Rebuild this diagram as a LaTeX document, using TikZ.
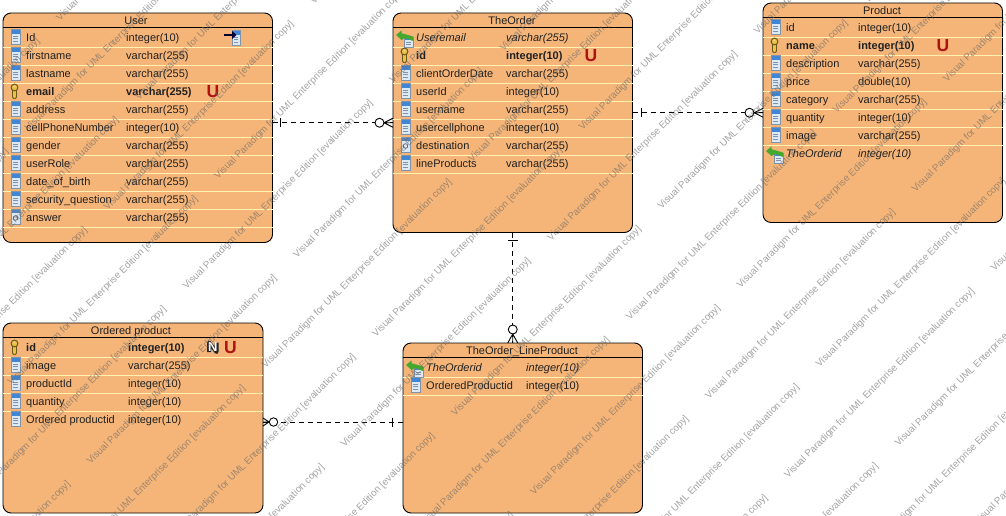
\documentclass[tikz,border=0pt]{standalone}
\usepackage{fontspec}
\setmainfont{Liberation Sans}
\usetikzlibrary{calc}
\definecolor{boxfill}{HTML}{F5B578}
\definecolor{sepcol}{HTML}{FFF1B0}
\definecolor{inkcol}{HTML}{202020}
\definecolor{ured}{HTML}{B01212}
\definecolor{docblue}{HTML}{3F86D6}
\definecolor{docbody}{HTML}{DCE8F4}
\definecolor{docedge}{HTML}{7F93AA}
\definecolor{keygold}{HTML}{E9C23E}
\definecolor{fkgreen}{HTML}{45A72E}
\tikzset{
  tablebox/.style={draw=black,line width=0.9pt,fill=boxfill,rounded corners=8pt,anchor=north west,inner sep=0pt,outer sep=0pt},
  headline/.style={draw=black,line width=0.9pt},
  rowsep/.style={draw=sepcol,line width=0.9pt},
  lbl/.style={font=\fontsize{11}{13}\selectfont,text=inkcol,anchor=base west,inner sep=0pt},
  ttl/.style={font=\fontsize{11}{13}\selectfont,text=inkcol,anchor=base,inner sep=0pt},
  rel/.style={draw=black,line width=0.8pt,dash pattern=on 5pt off 4pt},
  endmark/.style={draw=black,line width=0.9pt},
  ring/.style={draw=black,line width=0.9pt,fill=white},
  ubadge/.style={font=\bfseries\fontsize{17.5}{17.5}\selectfont,text=ured,inner sep=0pt},
  nbadge/.style={font=\bfseries\fontsize{13}{13}\selectfont,text=white,inner sep=0pt},
  wmark/.style={font=\fontsize{9.75}{11}\selectfont,text=black!60,opacity=0.6,rotate=45,anchor=base west,inner sep=0pt},
  coldoc/.pic={
    \fill[docbody] (-4.5,-7.5) rectangle (4.5,7.5);
    \fill[docblue] (-4.5,-7.5) rectangle (4.5,-3);
    \foreach \q in {-1,1.5,4}{\draw[docedge,line width=0.8pt] (-2.5,\q) -- (2.5,\q);}
    \draw[docedge,line width=0.6pt] (-4.5,-7.5) rectangle (4.5,7.5);
  },
  markdoc/.pic={
    \fill[docbody] (-4.5,-7.5) rectangle (4.5,7.5);
    \fill[docblue!60!gray] (-4.5,-7.5) rectangle (4.5,-4);
    \draw[black!65,line width=0.7pt] (0,1) circle (2.3);
    \draw[docedge,line width=0.6pt] (-4.5,-7.5) rectangle (4.5,7.5);
  },
  keymark/.pic={
    \draw[black!55!keygold,line width=4.4pt,line cap=round] (-1,-1) -- (-1,6);
    \draw[keygold,line width=2.6pt,line cap=round] (-1,-1) -- (-1,6);
    \draw[black!55!keygold,line width=1pt,fill=keygold] (-1,-3.5) circle (3.4);
    \fill[boxfill!70!white] (-1,-4.5) circle (1.2);
  },
  fkmark/.pic={
    \fill[docbody] (-1.5,0) rectangle (7.5,10);
    \fill[docblue] (-1.5,0) rectangle (7.5,3);
    \draw[docedge,line width=0.5pt] (-1.5,0) rectangle (7.5,10);
    \foreach \q in {5,7.5}{\draw[docedge,line width=0.7pt] (0.5,\q) -- (5.5,\q);}
    \fill[fkgreen] (-9.5,-2) -- (-4,-6.5) -- (-4,-3.8) -- (7.5,-0.5) -- (7.5,4) -- (-0.5,1) -- (-4,3) -- cycle;
  },
  pkref/.pic={
    \fill[docbody] (-4,-7.5) rectangle (4,7.5);
    \fill[docblue] (-4,-7.5) rectangle (4,-3);
    \foreach \q in {-1,1.5,4}{\draw[docedge,line width=0.8pt] (-2,\q) -- (2,\q);}
    \draw[docedge,line width=0.6pt] (-4,-7.5) rectangle (4,7.5);
    \draw[black!80!blue,line width=2pt] (-12,-3) -- (-3,-3);
    \fill[black!80!blue] (-4,-7) -- (0.5,-3) -- (-4,1) -- cycle;
  },
}
\newcount\rowno
\newcommand{\nameX}{0}\newcommand{\typeX}{0}\newcommand{\iconX}{0}
\newcommand{\tablecols}[3]{\renewcommand{\iconX}{#1}\renewcommand{\nameX}{#2}\renewcommand{\typeX}{#3}}
% y, icon pic, name, type, font switch
\newcommand{\dbrow}[5]{%
  \global\advance\rowno by 1
  \pic at (\iconX,#1) {#2};
  \node[lbl] (rn\the\rowno) at (\nameX,#1+4.5) {#5#3};
  \node[lbl] (rt\the\rowno) at (\typeX,#1+4.5) {#5#4};
}
\newcommand{\seps}[3]{% node, first y, last y
  \foreach \q in {#2,...,#3}{\draw[rowsep] (#1.west |- 0,\q) -- (#1.east |- 0,\q);}
}
\begin{document}
\begin{tikzpicture}[x=1pt,y=-1pt]
\useasboundingbox (0,0) rectangle (1006,516);
\clip (0,0) rectangle (1006,516);
\fill[white] (0,0) rectangle (1006,516);

% tables
\node[tablebox,minimum width=269.5pt,minimum height=229.5pt] (user) at (3,13) {};
\node[tablebox,minimum width=239.5pt,minimum height=219.5pt] (order) at (393,13) {};
\node[tablebox,minimum width=239.5pt,minimum height=219.5pt] (product) at (763,3) {};
\node[tablebox,minimum width=260pt,minimum height=190pt] (ordered) at (3,323) {};
\node[tablebox,minimum width=239.5pt,minimum height=170pt] (line) at (403,343) {};

% connectors
\draw[rel] (user.east |- order.west) -- (order.west);
\draw[rel] (order.east |- product.west) -- (product.west);
\draw[rel] (order.south) -- (order.south |- line.north);
\draw[rel] ([yshift=-4pt]ordered.east) -- ([yshift=-4pt]ordered.east -| line.west);

% ends: user - order
\draw[endmark] ([xshift=8pt]user.east |- order.west) ++(0,-4.5) -- ++(0,9);
\draw[ring] ([xshift=-13.5pt]order.west) circle (4.5);
\draw[endmark] ([xshift=-9pt]order.west) -- ++(9,-4.5) ([xshift=-9pt]order.west) -- ++(9,4.5) ([xshift=-9pt]order.west) -- (order.west);
% ends: order - product
\draw[endmark] ([xshift=8.5pt]order.east |- product.west) ++(0,-4.5) -- ++(0,9);
\draw[ring] ([xshift=-13.5pt]product.west) circle (4.5);
\draw[endmark] ([xshift=-9pt]product.west) -- ++(9,-4.5) ([xshift=-9pt]product.west) -- ++(9,4.5) ([xshift=-9pt]product.west) -- (product.west);
% ends: order - line
\draw[endmark] ([yshift=-8pt]order.south) ++(-5,0) -- ++(10,0);
\draw[ring] ([yshift=13.5pt]order.south |- line.north) circle (4.5);
\draw[endmark] ([yshift=9pt]order.south |- line.north) -- ++(-5,9) ([yshift=9pt]order.south |- line.north) -- ++(5,9) ([yshift=9pt]order.south |- line.north) -- (order.south |- line.north);
% ends: ordered - line
\draw[ring] ([xshift=10.5pt,yshift=-4pt]ordered.east) circle (4.2);
\draw[endmark] ([xshift=6pt,yshift=-4pt]ordered.east) -- ++(-6,-4) ([xshift=6pt,yshift=-4pt]ordered.east) -- ++(-6,4) ([xshift=6pt,yshift=-4pt]ordered.east) -- ([yshift=-4pt]ordered.east);
\draw[endmark] ([xshift=-10.5pt,yshift=-4pt]ordered.east -| line.west) ++(0,-4.5) -- ++(0,9);

% header rules, separators
\draw[headline] (user.west |- 0,27) -- (user.east |- 0,27);
\draw[headline] (order.west |- 0,27) -- (order.east |- 0,27);
\draw[headline] (product.west |- 0,17) -- (product.east |- 0,17);
\draw[headline] (ordered.west |- 0,337) -- (ordered.east |- 0,337);
\draw[headline] (line.west |- 0,357) -- (line.east |- 0,357);
\seps{user}{47,65}{227}
\seps{order}{47,65}{173}
\seps{product}{37,55}{145}
\seps{ordered}{357,375}{411}
\seps{line}{377,395}{377}

% titles
\node[ttl] (usertitle) at (136,24.5) {User};
\node[ttl] (ordertitle) at (512,24.5) {TheOrder};
\node[ttl] (producttitle) at (882,14.5) {Product};
\node[ttl] (orderedtitle) at (131,334.5) {Ordered product};
\node[ttl] (linetitle) at (522,354.5) {TheOrder\_LineProduct};

% User rows
\tablecols{15.5}{26}{126}
\dbrow{37}{coldoc}{Id}{integer(10)}{}
\dbrow{55}{coldoc}{firstname}{varchar(255)}{}
\dbrow{73}{coldoc}{lastname}{varchar(255)}{}
\dbrow{91}{keymark}{email}{varchar(255)}{\bfseries}
\dbrow{109}{coldoc}{address}{varchar(255)}{}
\dbrow{127}{coldoc}{cellPhoneNumber}{integer(10)}{}
\dbrow{145}{coldoc}{gender}{varchar(255)}{}
\dbrow{163}{coldoc}{userRole}{varchar(255)}{}
\dbrow{181}{coldoc}{date\_of\_birth}{varchar(255)}{}
\dbrow{199}{coldoc}{security\_question}{varchar(255)}{}
\dbrow{217}{markdoc}{answer}{varchar(255)}{}
\pic at (236,38) {pkref};
\node[ubadge] (uuser) at (213,91.5) {U};

% TheOrder rows
\tablecols{405.5}{416}{506}
\dbrow{37}{fkmark}{Useremail}{varchar(255)}{\itshape}
\dbrow{55}{keymark}{id}{integer(10)}{\bfseries}
\dbrow{73}{coldoc}{clientOrderDate}{varchar(255)}{}
\dbrow{91}{coldoc}{userId}{integer(10)}{}
\dbrow{109}{coldoc}{username}{varchar(255)}{}
\dbrow{127}{coldoc}{usercellphone}{integer(10)}{}
\dbrow{145}{markdoc}{destination}{varchar(255)}{}
\dbrow{163}{coldoc}{lineProducts}{varchar(255)}{}
\node[ubadge] (uorder) at (591,55.5) {U};

% Product rows
\tablecols{775.5}{786}{858}
\dbrow{27}{coldoc}{id}{integer(10)}{}
\dbrow{45}{keymark}{name}{integer(10)}{\bfseries}
\dbrow{63}{coldoc}{description}{varchar(255)}{}
\dbrow{81}{coldoc}{price}{double(10)}{}
\dbrow{99}{coldoc}{category}{varchar(255)}{}
\dbrow{117}{coldoc}{quantity}{integer(10)}{}
\dbrow{135}{coldoc}{image}{varchar(255)}{}
\dbrow{153}{fkmark}{TheOrderid}{integer(10)}{\itshape}
\node[ubadge] (uproduct) at (943,45.5) {U};

% Ordered product rows
\tablecols{15.5}{26}{128}
\dbrow{347}{keymark}{id}{integer(10)}{\bfseries}
\dbrow{365}{coldoc}{image}{varchar(255)}{}
\dbrow{383}{coldoc}{productId}{integer(10)}{}
\dbrow{401}{coldoc}{quantity}{integer(10)}{}
\dbrow{419}{coldoc}{Ordered productid}{integer(10)}{}
\draw[black!85,line width=4pt,line join=round] (209,352) -- (209,342.5) -- (216.5,352) -- (216.5,342.5);
\node[nbadge] (nordered) at (212.7,347.5) {N};
\node[ubadge] (uordered) at (230.5,347.5) {U};

% TheOrder_LineProduct rows
\tablecols{415.5}{426}{526}
\dbrow{367}{fkmark}{TheOrderid}{integer(10)}{\itshape}
\dbrow{385}{coldoc}{OrderedProductid}{integer(10)}{}

% evaluation watermark
\foreach \k in {-1,...,19}{
  \foreach \j in {-3,...,3}{
    \pgfmathsetmacro{\ss}{73+79*\k}
    \pgfmathsetmacro{\tt}{(mod(\k+2,2)==0 ? 37 : -105)+413*\j}
    \pgfmathsetmacro{\lo}{max(-\ss,\ss-1032)}
    \pgfmathsetmacro{\hi}{min(2012-\ss,\ss)}
    \pgfmathtruncatemacro{\vis}{(\tt<=\hi && \tt+381>=\lo) ? 1 : 0}
    \ifnum\vis=1
      \node[wmark] (wm\k x\j) at ({(\ss+\tt)/2+5},{(\ss-\tt)/2+3.5}) {Visual Paradigm for UML Enterprise Edition [evaluation copy]};
    \fi
  }
}
\end{tikzpicture}
\end{document}
